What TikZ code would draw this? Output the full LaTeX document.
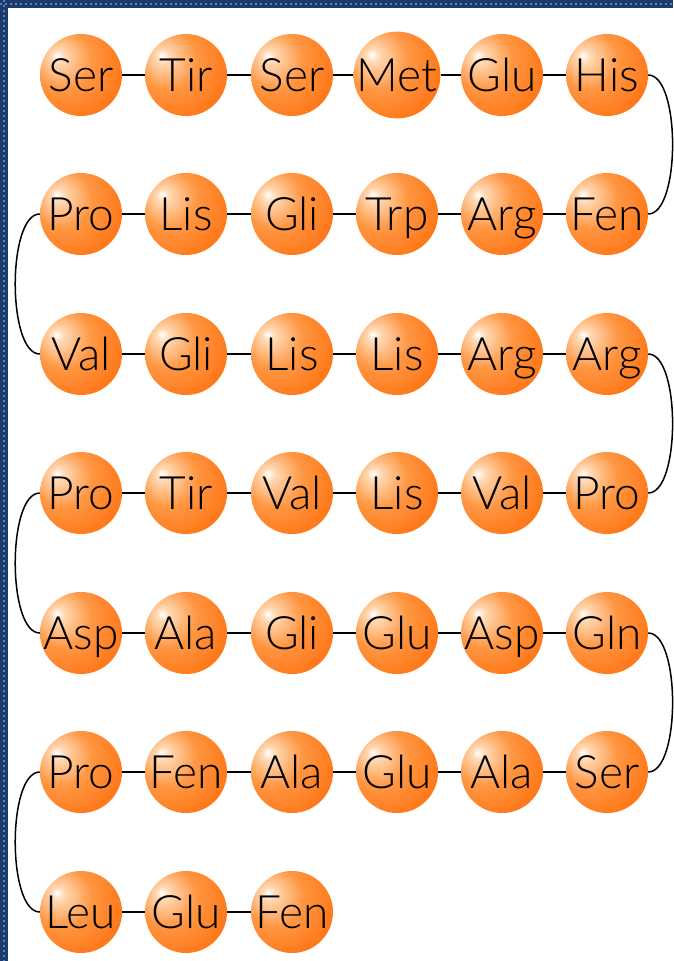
\documentclass[tikz,border=0pt]{standalone}
\usepackage{fontspec}
\setmainfont{Lato}[UprightFont=* Light]
\usetikzlibrary{positioning}

\definecolor{ballhi}{HTML}{FFD9B4}
\definecolor{ballmid}{HTML}{FF9642}
\definecolor{balldeep}{HTML}{FF6600}
\definecolor{frameblue}{HTML}{1C3A6C}
\definecolor{framedot}{HTML}{4F82C6}
\pgfdeclareradialshading{aminoball}{\pgfpoint{-15bp}{12bp}}{%
  color(0bp)=(white); color(4bp)=(ballhi); color(18bp)=(ballmid);
  color(44bp)=(balldeep); color(75bp)=(balldeep)}

\begin{document}
\begin{tikzpicture}[
    x=1pt, y=-1pt,
    amino/.style={circle, shading=aminoball, minimum size=82pt, inner sep=0pt,
        font=\fontsize{46}{46}\selectfont, text height=32pt, text depth=0pt},
    bond/.style={draw=black, line width=1.5pt},
    turn/.style={draw=black, line width=1.5pt, looseness=0.6},
]

% Moldura
\useasboundingbox (0,0) rectangle (673,961);
\fill[frameblue] (0,0) rectangle (673,961);
\fill[white] (8,8) rectangle (673,961);
\draw[framedot, line width=2pt, dash pattern=on 2pt off 3pt] (0,4) -- (673,4);
\draw[framedot, line width=2pt, dash pattern=on 2pt off 3pt] (4,0) -- (4,961);

% Posições
\node[amino] (a1) at (81,75) {Ser};
\node[amino] (a2) at (186,75) {Tir};
\node[amino] (a3) at (292,75) {Ser};
\node[amino] (a4) at (397,75) {Met};
\node[amino] (a5) at (502,75) {Glu};
\node[amino] (a6) at (607,75) {His};

\node[amino] (a7) at (607,214) {Fen};
\node[amino] (a8) at (502,214) {Arg};
\node[amino] (a9) at (397,214) {Trp};
\node[amino] (a10) at (292,214) {Gli};
\node[amino] (a11) at (186,214) {Lis};
\node[amino] (a12) at (81,214) {Pro};

\node[amino] (a13) at (81,354) {Val};
\node[amino] (a14) at (186,354) {Gli};
\node[amino] (a15) at (292,354) {Lis};
\node[amino] (a16) at (397,354) {Lis};
\node[amino] (a17) at (502,354) {Arg};
\node[amino] (a18) at (607,354) {Arg};

\node[amino] (a19) at (607,493) {Pro};
\node[amino] (a20) at (502,493) {Val};
\node[amino] (a21) at (397,493) {Lis};
\node[amino] (a22) at (292,493) {Val};
\node[amino] (a23) at (186,493) {Tir};
\node[amino] (a24) at (81,493) {Pro};

\node[amino] (a25) at (81,633) {Asp};
\node[amino] (a26) at (186,633) {Ala};
\node[amino] (a27) at (292,633) {Gli};
\node[amino] (a28) at (397,633) {Glu};
\node[amino] (a29) at (502,633) {Asp};
\node[amino] (a30) at (607,633) {Gln};

\node[amino] (a31) at (607,772) {Ser};
\node[amino] (a32) at (502,772) {Ala};
\node[amino] (a33) at (397,772) {Glu};
\node[amino] (a34) at (292,772) {Ala};
\node[amino] (a35) at (186,772) {Fen};
\node[amino] (a36) at (81,772) {Pro};

\node[amino] (a37) at (81,912) {Leu};
\node[amino] (a38) at (186,912) {Glu};
\node[amino] (a39) at (292,912) {Fen};

% Ligações
\draw[bond] (a1) -- (a2) (a2) -- (a3) (a3) -- (a4) (a4) -- (a5) (a5) -- (a6);
\draw[bond] (a7) -- (a8) (a8) -- (a9) (a9) -- (a10) (a10) -- (a11) (a11) -- (a12);
\draw[bond] (a13) -- (a14) (a14) -- (a15) (a15) -- (a16) (a16) -- (a17) (a17) -- (a18);
\draw[bond] (a19) -- (a20) (a20) -- (a21) (a21) -- (a22) (a22) -- (a23) (a23) -- (a24);
\draw[bond] (a25) -- (a26) (a26) -- (a27) (a27) -- (a28) (a28) -- (a29) (a29) -- (a30);
\draw[bond] (a31) -- (a32) (a32) -- (a33) (a33) -- (a34) (a34) -- (a35) (a35) -- (a36);
\draw[bond] (a37) -- (a38) (a38) -- (a39);

% Curvas
\draw[turn] (a6.east) to[out=0, in=0] (a7.east);
\draw[turn] (a12.west) to[out=180, in=180] (a13.west);
\draw[turn] (a18.east) to[out=0, in=0] (a19.east);
\draw[turn] (a24.west) to[out=180, in=180] (a25.west);
\draw[turn] (a30.east) to[out=0, in=0] (a31.east);
\draw[turn] (a36.west) to[out=180, in=180] (a37.west);

\end{tikzpicture}
\end{document}
